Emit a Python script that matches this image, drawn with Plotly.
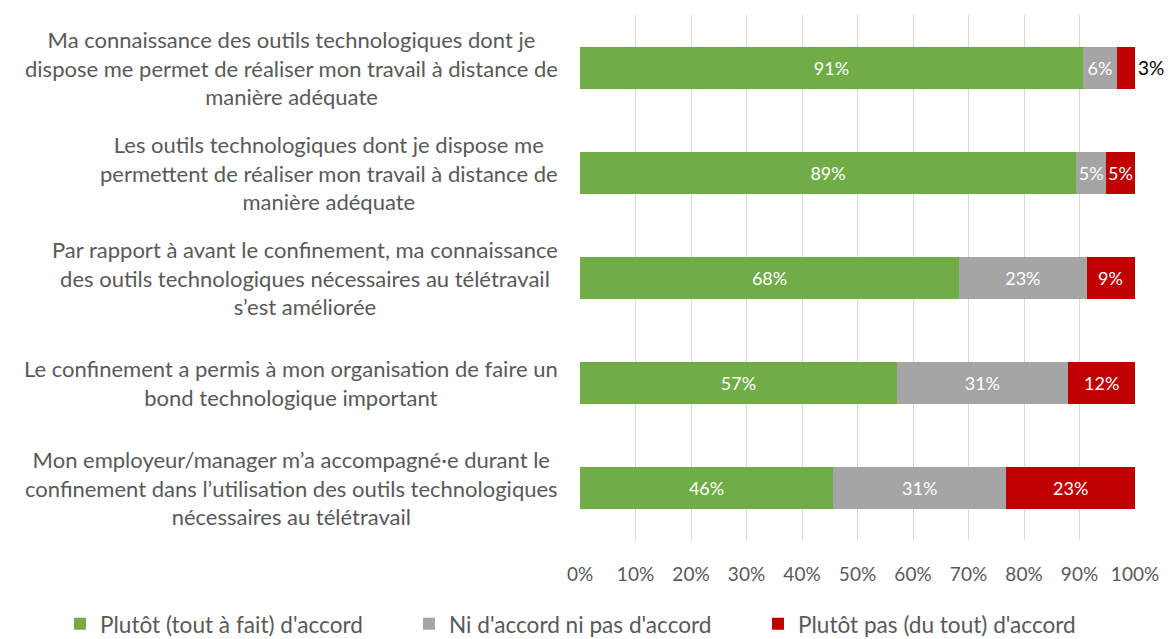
import plotly.graph_objects as go

categories = [
    "Ma connaissance des outils technologiques dont je<br>dispose me permet de réaliser mon travail à distance de<br>manière adéquate",
    "Les outils technologiques dont je dispose me<br>permettent de réaliser mon travail à distance de<br>manière adéquate",
    "Par rapport à avant le confinement, ma connaissance<br>des outils technologiques nécessaires au télétravail<br>s’est améliorée",
    "Le confinement a permis à mon organisation de faire un<br>bond technologique important",
    "Mon employeur/manager m’a accompagné·e durant le<br>confinement dans l’utilisation des outils technologiques<br>nécessaires au télétravail",
]
keys = ["q1", "q2", "q3", "q4", "q5"]
agree = [90.6, 89.4, 68.3, 57.1, 45.6]
neutral = [6.2, 5.4, 23.0, 30.8, 31.2]
disagree = [3.2, 5.2, 8.7, 12.1, 23.2]
series_names = ["Plutôt (tout à fait) d'accord", "Ni d'accord ni pas d'accord", "Plutôt pas (du tout) d'accord"]
colors = ["#70AD47", "#A5A5A5", "#C00000"]

FONT = "Lato"
fig = go.Figure()
for name, vals, col in zip(series_names, [agree, neutral, disagree], colors):
    is_red = col == "#C00000"
    fig.add_trace(go.Bar(
        y=keys, x=vals, name=name, orientation="h",
        marker=dict(color=col, line=dict(width=0)),
        texttemplate="%{x:.0f}%" if not is_red else None,
        textposition="inside" if not is_red else "none",
        insidetextanchor="middle",
        constraintext="none",
        textangle=0,
        insidetextfont=dict(color="white", size=18, family=FONT),
        cliponaxis=False,
        width=0.4,
    ))

# labels of the last (red) segment, placed from the data through the axes
for k, a, n, d in zip(keys, agree, neutral, disagree):
    if d < 4:
        fig.add_annotation(x=a + n + d, xref="x", y=k, yref="y", xanchor="left", xshift=1,
                           text=f"{d:.0f}%", showarrow=False,
                           font=dict(family=FONT, size=19, color="black"))
    else:
        fig.add_annotation(x=a + n + d / 2, xref="x", y=k, yref="y", xanchor="center",
                           text=f"{d:.0f}%", showarrow=False,
                           font=dict(family=FONT, size=18, color="white"))

for k, c in zip(keys, categories):
    fig.add_annotation(x=0, xref="paper", y=k, yref="y", xanchor="right", xshift=-20,
                       align="center", text=c, showarrow=False,
                       font=dict(family=FONT, size=22, color="#595959"))

# page body has an 8px margin: figure is sized/positioned to land on the same pixels
fig.update_layout(
    barmode="stack",
    width=1165, height=631,
    margin=dict(l=572, r=38, t=7, b=99, autoexpand=False),
    paper_bgcolor="white", plot_bgcolor="white",
    font=dict(family=FONT, color="#595959", size=19),
    xaxis=dict(range=[0, 100], dtick=10, ticksuffix="%", showgrid=True, gridcolor="#D9D9D9",
               gridwidth=1, zeroline=False, showline=False, ticks="outside", ticklen=17, tickcolor="rgba(0,0,0,0)",
               tickfont=dict(size=19, color="#595959")),
    yaxis=dict(autorange="reversed", showticklabels=False, showgrid=False, zeroline=False),
    legend=dict(orientation="h", xref="paper", x=-0.937, xanchor="left", yref="paper", y=-0.16, yanchor="middle",
                font=dict(size=22.6, color="#595959", family=FONT), traceorder="normal", itemwidth=30,
                entrywidth=304, entrywidthmode="pixels", tracegroupgap=0),
    showlegend=True,
)
fig.write_html("out.html")
